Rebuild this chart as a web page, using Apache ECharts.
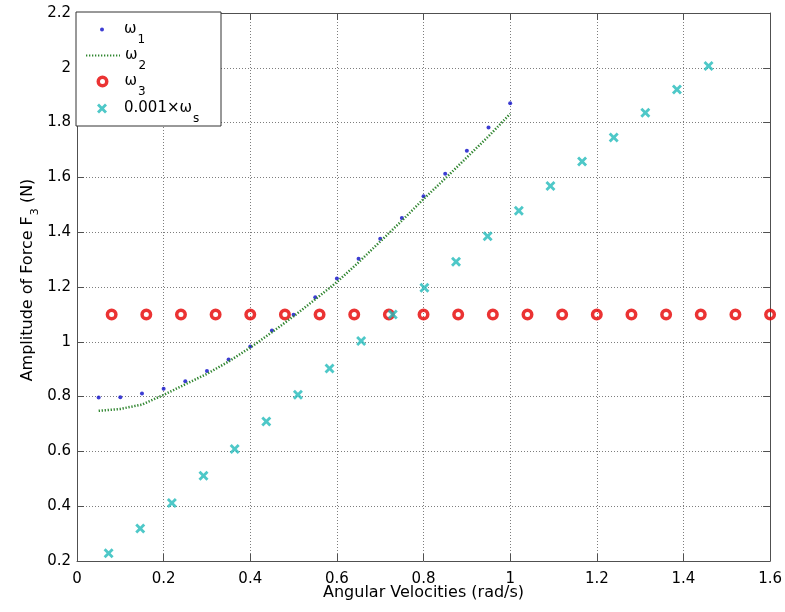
<!DOCTYPE html>
<html>
<head>
<meta charset="utf-8">
<title>Amplitude of Force F3</title>
<script src="https://cdn.jsdelivr.net/npm/echarts@6/dist/echarts.min.js"></script>
<style>
  html, body { margin: 0; padding: 0; background: #fff; }
  #chart { width: 785px; height: 612px; }
</style>
</head>
<body>
<div id="chart"></div>
<script>
// Axis ticks
const xTicks = [0, 0.2, 0.4, 0.6, 0.8, 1, 1.2, 1.4, 1.6];
const yTicks = [0.2, 0.4, 0.6, 0.8, 1, 1.2, 1.4, 1.6, 1.8, 2, 2.2];

// omega_1 (dots)
const omega1X = [0.05, 0.1, 0.15, 0.2, 0.25, 0.3, 0.35, 0.4, 0.45, 0.5,
                 0.55, 0.6, 0.65, 0.7, 0.75, 0.8, 0.85, 0.9, 0.95, 1.0];
const omega1Y = [0.797, 0.798, 0.811, 0.829, 0.856, 0.893, 0.935, 0.983, 1.041, 1.099,
                 1.163, 1.231, 1.303, 1.376, 1.452, 1.531, 1.613, 1.697, 1.782, 1.871];

// omega_2 (dotted curve)
const omega2X = [0.05, 0.1, 0.15, 0.2, 0.25, 0.3, 0.35, 0.4, 0.45, 0.5,
                 0.55, 0.6, 0.65, 0.7, 0.75, 0.8, 0.85, 0.9, 0.95, 1.0];
const omega2Y = [0.748, 0.755, 0.771, 0.806, 0.845, 0.883, 0.928, 0.979, 1.035, 1.093,
                 1.155, 1.218, 1.290, 1.366, 1.442, 1.521, 1.596, 1.673, 1.750, 1.832];

// omega_3 (circles)
const omega3X = [0.08, 0.16, 0.24, 0.32, 0.4, 0.48, 0.56, 0.64, 0.72, 0.8,
                 0.88, 0.96, 1.04, 1.12, 1.2, 1.28, 1.36, 1.44, 1.52, 1.6];
const omega3Y = [1.1, 1.1, 1.1, 1.1, 1.1, 1.1, 1.1, 1.1, 1.1, 1.1,
                 1.1, 1.1, 1.1, 1.1, 1.1, 1.1, 1.1, 1.1, 1.1, 1.1];

// 0.001 x omega_s (crosses)
const omegaSX = [0.073, 0.146, 0.219, 0.292, 0.364, 0.437, 0.510, 0.583, 0.656, 0.729,
                 0.802, 0.875, 0.948, 1.020, 1.093, 1.166, 1.239, 1.312, 1.385, 1.458];
const omegaSY = [0.228, 0.319, 0.412, 0.511, 0.609, 0.709, 0.807, 0.903, 1.003, 1.100,
                 1.197, 1.292, 1.385, 1.478, 1.569, 1.658, 1.746, 1.836, 1.921, 2.007];

const zip = (xs, ys) => xs.map((x, i) => [x, ys[i]]);

const FONT = '"DejaVu Sans", "Liberation Sans", Arial, sans-serif';
const AXIS_COLOR = '#505050';
const GRID_LINE = { show: true, lineStyle: { color: '#7d7d7d', width: 1, type: [1, 2] } };
const CROSS = 'path://M0,2 L2,0 L5,3 L8,0 L10,2 L7,5 L10,8 L8,10 L5,7 L2,10 L0,8 L3,5 Z';

const COLORS = { w1: '#0c0cc8', w2: '#2f852f', w3: '#e60000', ws: '#22baba' };

const NAMES = { w1: 'ω1', w2: 'ω2', w3: 'ω3', ws: '0.001×ωs' };
const LABELS = {
  'ω1': '{t|ω}{s|1}',
  'ω2': '{t|ω}{s|2}',
  'ω3': '{t|ω}{s|3}',
  '0.001×ωs': '{t|0.001×ω}{s|s}'
};
const legendRich = {
  t: { fontFamily: FONT, fontSize: 15, color: '#000' },
  s: { fontFamily: FONT, fontSize: 12, color: '#000', padding: [20, 0, 0, 1] }
};

// one legend block per row so every marker keeps its own size
function legendRow(name, centerY, left, itemHeight, extra) {
  return Object.assign({
    orient: 'vertical',
    left: left,
    top: centerY - 7,
    padding: 0,
    itemWidth: 34,
    itemHeight: itemHeight,
    itemGap: 0,
    data: [name],
    formatter: n => LABELS[n],
    textStyle: { rich: legendRich }
  }, extra || {});
}

const xMin = xTicks[0], xMax = xTicks[xTicks.length - 1], xStep = xTicks[1] - xTicks[0];
const yMin = yTicks[0], yMax = yTicks[yTicks.length - 1], yStep = yTicks[1] - yTicks[0];

const baseAxis = {
  type: 'value',
  axisLine: { show: true, onZero: false, lineStyle: { color: AXIS_COLOR, width: 1 } },
  axisTick: { show: true, inside: true, length: 7, lineStyle: { color: AXIS_COLOR } }
};

const chart = echarts.init(document.getElementById('chart'), null, { renderer: 'canvas' });

chart.setOption({
  animation: false,
  backgroundColor: '#fff',
  textStyle: { fontFamily: FONT },
  grid: { left: 77, right: 14, top: 13, bottom: 51, containLabel: false },
  xAxis: [
    Object.assign({}, baseAxis, {
      position: 'bottom',
      min: xMin, max: xMax, interval: xStep,
      splitLine: GRID_LINE,
      axisLabel: { color: '#000', fontSize: 15, margin: 11, fontFamily: FONT },
      name: 'Angular Velocities (rad/s)',
      nameLocation: 'middle',
      nameGap: 24,
      nameMoveOverlap: false,
      nameTextStyle: { color: '#000', fontSize: 16, fontFamily: FONT, verticalAlign: 'top' }
    }),
    Object.assign({}, baseAxis, {
      position: 'top',
      min: xMin, max: xMax, interval: xStep,
      splitLine: { show: false },
      axisLabel: { show: false }
    })
  ],
  yAxis: [
    Object.assign({}, baseAxis, {
      position: 'left',
      min: yMin, max: yMax, interval: yStep,
      splitLine: GRID_LINE,
      axisLabel: { color: '#000', fontSize: 15, margin: 6, fontFamily: FONT },
      name: '{a|Amplitude of Force F}{s|3}{a| (N)}',
      nameLocation: 'middle',
      nameRotate: 90,
      nameGap: 36,
      nameMoveOverlap: false,
      nameTextStyle: {
        padding: [0, 0, 0, 14],
        rich: {
          a: { fontFamily: FONT, fontSize: 16, color: '#000' },
          s: { fontFamily: FONT, fontSize: 11, color: '#000', padding: [16, 0, 0, 1] }
        }
      }
    }),
    Object.assign({}, baseAxis, {
      position: 'right',
      min: yMin, max: yMax, interval: yStep,
      splitLine: { show: false },
      axisLabel: { show: false }
    })
  ],
  legend: [
    legendRow(NAMES.w1, 29, 100, 4),
    legendRow(NAMES.w2, 55, 85, 14, {
      data: [{ name: NAMES.w2, itemStyle: { color: 'rgba(0,0,0,0)', borderColor: 'rgba(0,0,0,0)', borderWidth: 0 } }]
    }),
    legendRow(NAMES.w3, 81, 96.5, 8.5, {
      data: [{ name: NAMES.w3, itemStyle: { color: 'rgba(255,255,255,0)', borderColor: COLORS.w3, borderWidth: 3.5 } }]
    }),
    legendRow(NAMES.ws, 108, 97, 10)
  ],
  graphic: [{
    type: 'rect',
    z: 3,
    shape: { x: 76, y: 12, width: 145, height: 114 },
    style: { fill: '#fff', stroke: '#333', lineWidth: 1 }
  }],
  series: [
    {
      name: NAMES.w1,
      type: 'scatter',
      symbol: 'circle',
      symbolSize: 4,
      itemStyle: { color: COLORS.w1 },
      data: zip(omega1X, omega1Y)
    },
    {
      name: NAMES.w2,
      type: 'line',
      symbol: 'none',
      showSymbol: false,
      lineStyle: { color: COLORS.w2, width: 2.5, type: [1.3, 1.7] },
      itemStyle: { color: COLORS.w2 },
      data: zip(omega2X, omega2Y)
    },
    {
      name: NAMES.w3,
      type: 'scatter',
      symbol: 'circle',
      symbolSize: 8.5,
      itemStyle: { color: 'rgba(255,255,255,0)', borderColor: COLORS.w3, borderWidth: 3.5 },
      data: zip(omega3X, omega3Y)
    },
    {
      name: NAMES.ws,
      type: 'scatter',
      symbol: CROSS,
      symbolSize: 10,
      itemStyle: { color: COLORS.ws },
      data: zip(omegaSX, omegaSY)
    }
  ]
});
</script>
</body>
</html>
